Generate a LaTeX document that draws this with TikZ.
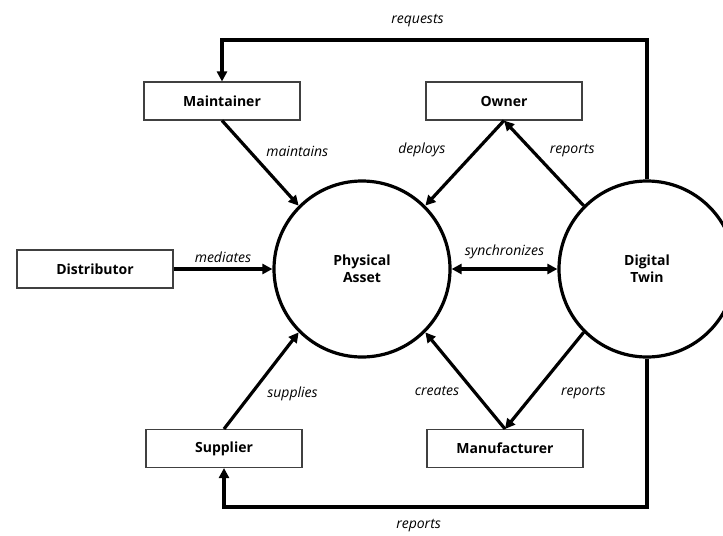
\documentclass[tikz,border=0pt]{standalone}
\usepackage{fontspec}
\setmainfont{Open Sans}
\usetikzlibrary{positioning,arrows.meta}
\tikzset{
  actor/.style={draw=black!75, line width=0.8pt, rectangle, minimum width=117pt, minimum height=28.5pt, align=center, font=\fontsize{10.5}{12.5}\selectfont\bfseries},
  asset/.style={draw, circle, line width=2.4pt, minimum size=132pt, inner sep=0pt, align=center, font=\fontsize{10.5}{12.5}\selectfont\bfseries},
  note/.style={font=\fontsize{10.5}{12.5}\selectfont\itshape, align=center},
  line/.style={-{Triangle[length=7.5pt,width=7.5pt]}, line width=2.4pt}
}
\begin{document}
\begin{tikzpicture}[x=0.75pt, y=-0.75pt]
    \clip (0,0) rectangle (723,535);
    \node[asset] (phys) at (362,269) {Physical\\Asset};
    \node[asset] (twin) at (647,269) {Digital\\Twin};

    \node[actor] (maint) at (222,101) {Maintainer};
    \node[actor] (owner) at (504,101) {Owner};
    \node[actor] (distr) at (95,269) {Distributor};
    \node[actor] (suppl) at (224,448.5) {Supplier};
    \node[actor] (manuf) at (505,448.5) {Manufacturer};

    \coordinate (topline) at (0,40);
    \coordinate (botline) at (0,507);

    \draw[line] (maint.south) -- node[note, above right] {maintains} (phys.135);
    \draw[line] (owner.south) -- node[note, above left, xshift=-10pt] {deploys} (phys.45);
    \draw[line] (twin.135) -- node[note, above right] {reports} (owner.south);
    \draw[line] (distr.east) -- node[note, above] {mediates} (phys.west);
    \draw[line, {Triangle[length=7.5pt,width=7.5pt]}-{Triangle[length=7.5pt,width=7.5pt]}] (phys.east) -- node[note, above=3pt] {synchronizes} (twin.west);
    \draw[line] (suppl.north) -- node[note, below right] {supplies} (phys.225);
    \draw[line] (manuf.north) -- node[note, below left] {creates} (phys.315);
    \draw[line] (twin.225) -- node[note, below right, xshift=8pt] {reports} (manuf.north);

    \draw[line] (twin.north) -- (twin.north |- topline) -| node[note, above=5pt, pos=0.27] {requests} (maint.north);
    \draw[line] (twin.south) -- (twin.south |- botline) -| node[note, below=5pt, pos=0.27] {reports} (suppl.south);
\end{tikzpicture}
\end{document}
